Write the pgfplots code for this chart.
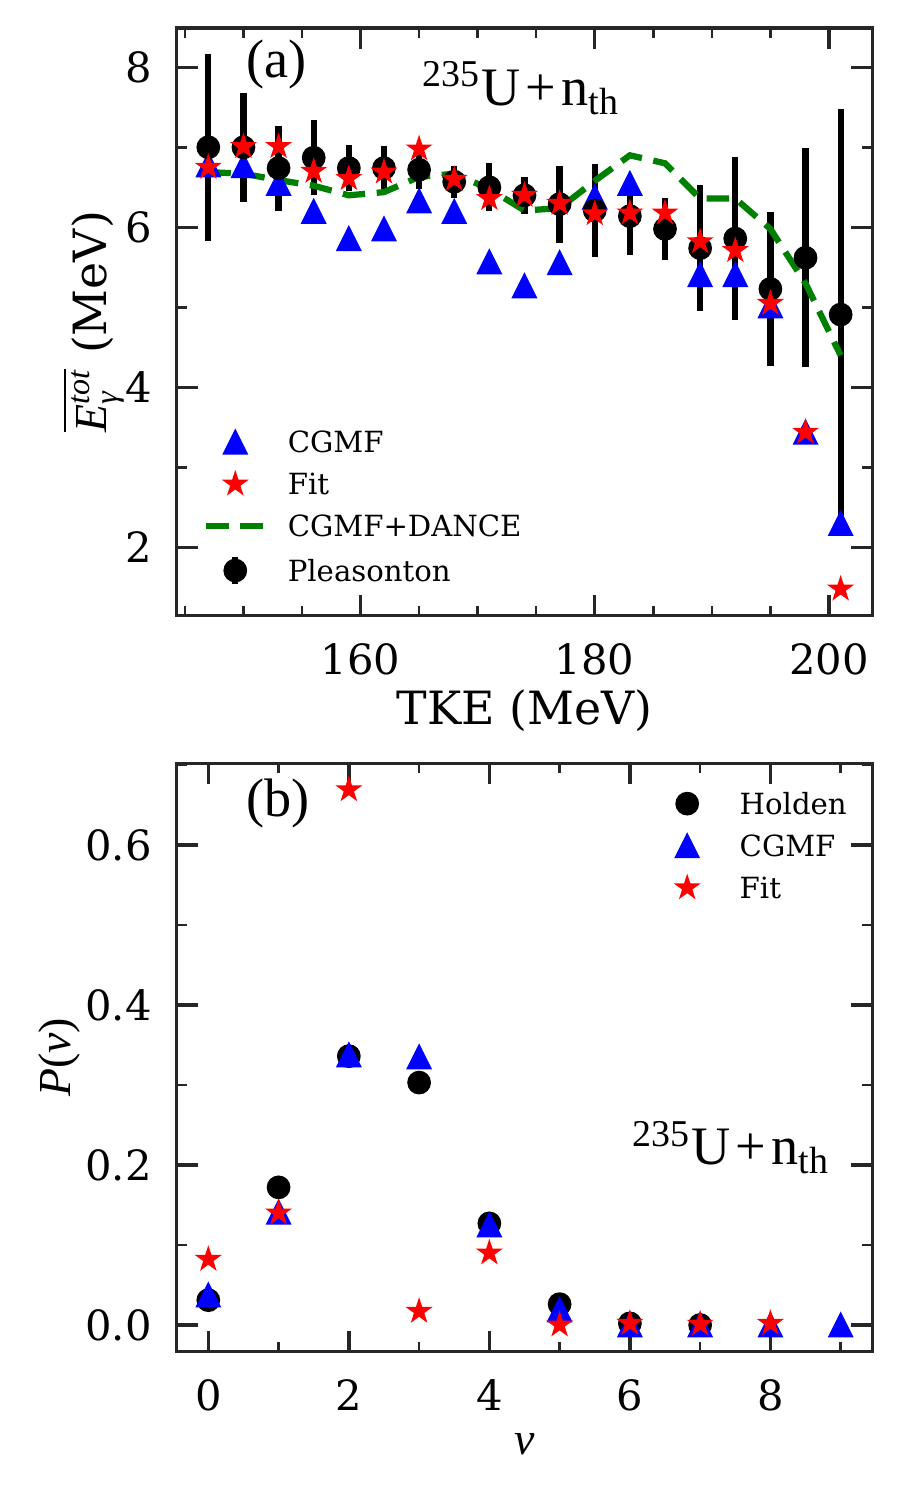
\documentclass[border=0pt]{standalone}
\usepackage{amsmath}
\usepackage{fontspec}
\setmainfont{DejaVu Serif}
\newfontfamily\tnr{Liberation Serif}
\usepackage{pgfplots}
\usepackage{pgfplotstable}
\pgfplotsset{compat=1.18}
\definecolor{mplgreen}{rgb}{0,0.5,0}

\pgfdeclareplotmark{mtri}{%
  \pgfpathmoveto{\pgfqpoint{0pt}{\pgfplotmarksize}}%
  \pgfpathlineto{\pgfpoint{-\pgfplotmarksize}{-\pgfplotmarksize}}%
  \pgfpathlineto{\pgfpoint{\pgfplotmarksize}{-\pgfplotmarksize}}%
  \pgfpathclose
  \pgfusepathqfillstroke
}
\pgfdeclareplotmark{mstar}{%
  \pgfpathmoveto{\pgfpointpolar{90}{\pgfplotmarksize}}%
  \pgfpathlineto{\pgfpointpolar{126}{0.382\pgfplotmarksize}}%
  \pgfpathlineto{\pgfpointpolar{162}{\pgfplotmarksize}}%
  \pgfpathlineto{\pgfpointpolar{198}{0.382\pgfplotmarksize}}%
  \pgfpathlineto{\pgfpointpolar{234}{\pgfplotmarksize}}%
  \pgfpathlineto{\pgfpointpolar{270}{0.382\pgfplotmarksize}}%
  \pgfpathlineto{\pgfpointpolar{306}{\pgfplotmarksize}}%
  \pgfpathlineto{\pgfpointpolar{342}{0.382\pgfplotmarksize}}%
  \pgfpathlineto{\pgfpointpolar{18}{\pgfplotmarksize}}%
  \pgfpathlineto{\pgfpointpolar{54}{0.382\pgfplotmarksize}}%
  \pgfpathclose
  \pgfusepathqfillstroke
}

% ---------- data, panel (a) ----------
\pgfplotstableread{
x y e
147 7.00 1.17
150 7.00 0.68
153 6.74 0.53
156 6.87 0.47
159 6.74 0.29
162 6.74 0.27
165 6.72 0.24
168 6.57 0.20
171 6.50 0.30
174 6.40 0.23
177 6.29 0.48
180 6.21 0.58
183 6.14 0.49
186 5.98 0.39
189 5.74 0.79
192 5.86 1.02
195 5.23 0.96
198 5.62 1.37
201 4.91 2.57
}\pleas
\pgfplotstableread{
x y
147 6.78
150 6.77
153 6.55
156 6.20
159 5.86
162 5.98
165 6.33
168 6.20
171 5.57
174 5.27
177 5.56
180 6.38
183 6.55
189 5.41
192 5.41
195 5.02
198 3.44
201 2.30
}\cgmfa
\pgfplotstableread{
x y
147 6.75
150 7.01
153 7.01
156 6.70
159 6.61
162 6.69
165 6.98
168 6.60
171 6.36
174 6.40
177 6.30
180 6.17
183 6.18
186 6.18
189 5.82
192 5.71
195 5.05
198 3.44
201 1.48
}\fita
\pgfplotstableread{
x y
147 6.69
150 6.67
153 6.59
156 6.52
159 6.40
162 6.44
165 6.63
168 6.67
171 6.48
174 6.21
177 6.24
180 6.58
183 6.90
186 6.80
189 6.36
192 6.36
195 5.98
198 5.30
201 4.40
}\dance
% ---------- data, panel (b) ----------
\pgfplotstableread{
x y
0 0.031
1 0.172
2 0.336
3 0.303
4 0.127
5 0.026
6 0.002
7 0.000
}\holden
\pgfplotstableread{
x y
0 0.0375
1 0.141
2 0.3375
3 0.335
4 0.125
5 0.019
6 0.000
7 0.000
8 0.000
9 0.000
}\cgmfb
\pgfplotstableread{
x y
0 0.082
1 0.140
2 0.669
3 0.017
4 0.090
5 0.000
6 0.002
7 0.001
8 0.002
}\fitb

\pgfplotsset{
  mystyle/.style={
    scale only axis,
    axis line style={line width=0.8pt, black!85},
    tick align=inside,
    major tick length=5pt, minor tick length=2.4pt,
    every tick/.style={black!85, line width=0.8pt},
    every minor tick/.style={line width=0.6pt},
    tick label style={font=\fontsize{10}{12}\selectfont},
    /pgf/number format/assume math mode=true,
    xticklabel style={inner sep=0pt, yshift=-6.5pt},
    yticklabel style={inner sep=0pt, xshift=-5.8pt},
    label style={font=\fontsize{11}{13}\selectfont},
    legend style={draw=none, fill=none, inner sep=0pt, outer sep=0pt,
      font=\fontsize{7}{8}\selectfont, row sep=3.1pt,
      nodes={inner xsep=0pt, inner ysep=0.95pt, text height=5.1pt, text depth=0pt}},
    legend cell align=left,
  },
  tri/.style={only marks, mark=mtri, mark size=2.8pt, mark options={draw=blue, fill=blue, line width=0.4pt}},
  stars/.style={only marks, mark=mstar, mark size=2.75pt, mark options={draw=red, fill=red, line width=0.4pt}},
  dots/.style={only marks, mark=*, mark size=2.65pt, mark options={draw=black, fill=black, line width=0.4pt}},
}
\newcommand{\lbox}{\path[draw=none, fill=none] (0pt,-3.5pt) rectangle (19.6pt,3.5pt);}

\begin{document}
\begin{tikzpicture}
\useasboundingbox (0,0) rectangle (216pt,-360pt);
% ================= panel (a) =================
\begin{axis}[mystyle,
  at={(42.41pt,-147.72pt)}, anchor=south west,
  width=166.94pt, height=141.0pt,
  xmin=144.3, xmax=203.7, ymin=1.15, ymax=8.49,
  xtick={160,180,200}, minor xtick={145,150,155,165,170,175,185,190,195},
  ytick={2,4,6,8}, minor ytick={3,5,7},
  xlabel={TKE (MeV)},
  xlabel style={at={(axis description cs:0.5,-0.186)}, anchor=base},
  ylabel={$\overline{\text{\tnr\itshape E}_{\text{\tnr\itshape γ}}^{\text{\tnr\itshape tot}}}$ (MeV)},
  ylabel style={at={(axis description cs:-0.1016,0.5)}, anchor=base},
  legend style={at={(axis description cs:0.0378,0.184)}, anchor=west},
]
\addplot[forget plot, tri] table[x=x, y=y] {\cgmfa};
\addplot[forget plot, dots, error bars/.cd, y dir=both, y explicit, error mark=none,
  error bar style={line width=1.5pt, black}] table[x=x, y=y, y error=e] {\pleas};
\addplot[forget plot, stars] table[x=x, y=y] {\fita};
\addplot[forget plot, mplgreen, line width=1.5pt, dash pattern=on 5.4pt off 2.8pt, no marks] table[x=x, y=y] {\dance};

\addlegendimage{legend image code/.code={\lbox
  \draw[draw=blue, fill=blue, line width=0.4pt, only marks, mark=mtri, mark size=2.8pt] plot coordinates {(7pt,0pt)};}}
\addlegendentry{CGMF}
\addlegendimage{legend image code/.code={\lbox
  \draw[draw=red, fill=red, line width=0.4pt, only marks, mark=mstar, mark size=2.75pt] plot coordinates {(7pt,0pt)};}}
\addlegendentry{Fit}
\addlegendimage{legend image code/.code={\lbox
  \draw[mplgreen, line width=1.5pt, dash pattern=on 5.4pt off 2.8pt] (0pt,0pt) -- (13.6pt,0pt);}}
\addlegendentry{CGMF+DANCE}
\addlegendimage{legend image code/.code={\lbox
  \draw[black, line width=1.5pt] (7pt,-3.3pt) -- (7pt,3.3pt);
  \fill[black] (7pt,0pt) circle (2.65pt);}}
\addlegendentry{Pleasonton}

\node[anchor=base west, inner sep=0pt] at (axis description cs:0.0994,0.9165)
  {\fontsize{13}{15}\selectfont\tnr (a)};
\node[anchor=base west, inner sep=0pt] at (axis description cs:0.3516,0.8688)
  {\fontsize{13}{15}\selectfont\tnr \textsuperscript{235}U\kern1.3pt+\kern1.3pt n\textsubscript{th}};
\end{axis}

% ================= panel (b) =================
\begin{axis}[mystyle,
  at={(42.41pt,-324.4pt)}, anchor=south west,
  width=166.94pt, height=141.2pt,
  xmin=-0.45, xmax=9.45, ymin=-0.0334, ymax=0.702,
  xtick={0,2,4,6,8}, minor xtick={1,3,5,7,9},
  ytick={0,0.2,0.4,0.6}, minor ytick={0.1,0.3,0.5,0.7},
  yticklabel style={/pgf/number format/.cd, fixed, fixed zerofill, precision=1},
  xlabel={\tnr\itshape ν},
  xlabel style={at={(axis description cs:0.5,-0.1746)}, anchor=base},
  ylabel={{\tnr\itshape P}{\tnr (}{\tnr\itshape ν}{\tnr )}},
  ylabel style={at={(axis description cs:-0.152,0.5)}, anchor=base},
  legend style={at={(axis description cs:0.692,0.860)}, anchor=west},
]
\addplot[forget plot, dots] table[x=x, y=y] {\holden};
\addplot[forget plot, tri] table[x=x, y=y] {\cgmfb};
\addplot[forget plot, stars] table[x=x, y=y] {\fitb};

\addlegendimage{legend image code/.code={\lbox
  \fill[black] (7pt,0pt) circle (2.65pt);}}
\addlegendentry{Holden}
\addlegendimage{legend image code/.code={\lbox
  \draw[draw=blue, fill=blue, line width=0.4pt, only marks, mark=mtri, mark size=2.8pt] plot coordinates {(7pt,0pt)};}}
\addlegendentry{CGMF}
\addlegendimage{legend image code/.code={\lbox
  \draw[draw=red, fill=red, line width=0.4pt, only marks, mark=mstar, mark size=2.75pt] plot coordinates {(7pt,0pt)};}}
\addlegendentry{Fit}

\node[anchor=base west, inner sep=0pt] at (axis description cs:0.0994,0.910)
  {\fontsize{13}{15}\selectfont\tnr (b)};
\node[anchor=base west, inner sep=0pt] at (axis description cs:0.654,0.3186)
  {\fontsize{13}{15}\selectfont\tnr \textsuperscript{235}U\kern1.3pt+\kern1.3pt n\textsubscript{th}};
\end{axis}
\end{tikzpicture}
\end{document}
